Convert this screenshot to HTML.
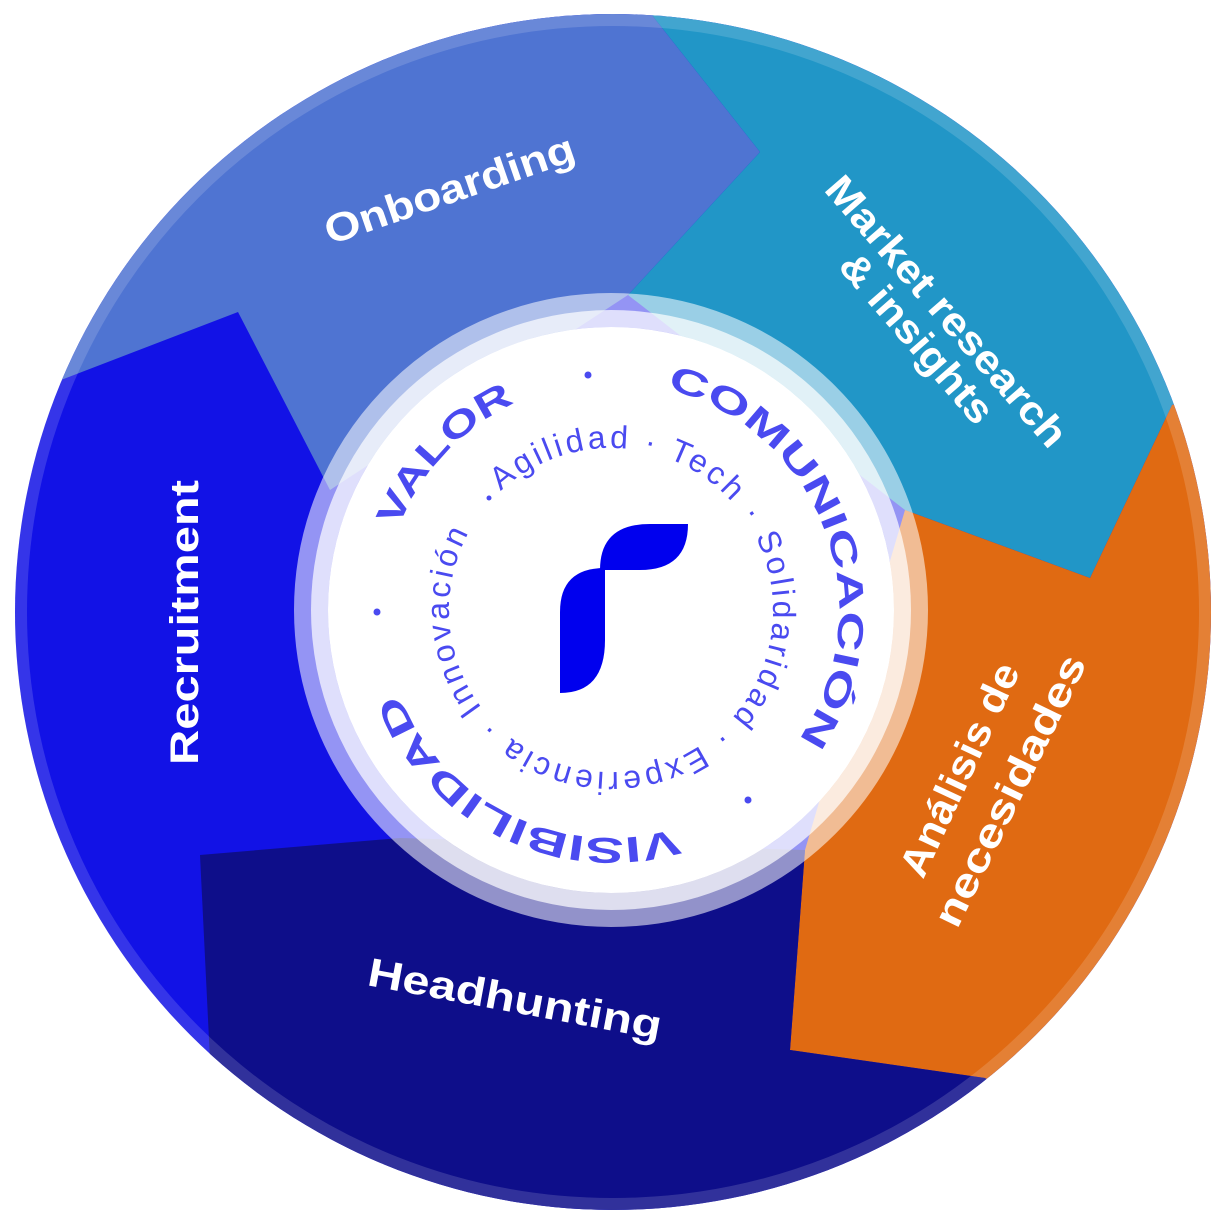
<!DOCTYPE html>
<html><head><meta charset="utf-8"><style>
html,body{margin:0;padding:0;background:#fff;}
svg{display:block;}
text{font-family:"Liberation Sans",sans-serif;}
</style></head><body>
<svg width="1222" height="1224" viewBox="0 0 1222 1224" xmlns="http://www.w3.org/2000/svg">
<defs>
<clipPath id="c"><circle cx="613" cy="612" r="598"/></clipPath>
<path id="outer" d="M383,610 A228,228 0 1 1 839,610 A228,228 0 1 1 383,610"/>
<path id="inner" d="M486.9,505.8 A162,162 0 1 1 735.1,714.2 A162,162 0 1 1 486.9,505.8"/>
</defs>
<g clip-path="url(#c)">
<rect x="0" y="0" width="1222" height="1224" fill="#1212e6"/>
<polygon points="0,0 640,0 760,152 628,295 330,490 238,312 40,388 0,388" fill="#4f74d2"/>
<polygon points="640,0 1222,0 1222,390 1172,405 1090,578 905,510 628,295 760,152" fill="#2196c7"/>
<polygon points="905,510 1090,578 1172,405 1222,390 1222,1224 985,1078 790,1050 805,850" fill="#e06a12"/>
<polygon points="200,855 400,838 805,850 790,1050 985,1078 1222,1224 212,1224 210,1060" fill="#0e0e8a"/>
</g>
<circle cx="613" cy="612" r="592" fill="none" stroke="#ffffff" stroke-opacity="0.15" stroke-width="12"/>
<circle cx="611" cy="610" r="300" fill="#ffffff" fill-opacity="0.7" stroke="#ffffff" stroke-opacity="0.55" stroke-width="34"/>
<circle cx="611" cy="610" r="283" fill="#ffffff"/>
<g fill="#4a4af0" font-weight="bold" font-size="36">
<text><textPath href="#outer" startOffset="84" textLength="175" lengthAdjust="spacingAndGlyphs">VALOR</textPath></text>
<text><textPath href="#outer" startOffset="414" textLength="440" lengthAdjust="spacingAndGlyphs">COMUNICACIÓN</textPath></text>
<text><textPath href="#outer" startOffset="1007" textLength="340" lengthAdjust="spacingAndGlyphs">VISIBILIDAD</textPath></text>
</g>
<g fill="#4a4af0"><circle cx="588" cy="375" r="3.5"/><circle cx="748" cy="800" r="3.5"/><circle cx="377" cy="612" r="3.5"/><circle cx="489" cy="498" r="2.5"/></g>
<text fill="#4a4af0" font-size="32"><textPath href="#inner" startOffset="20" textLength="965" lengthAdjust="spacing">Agilidad · Tech · Solidaridad · Experiencia · Innovación</textPath></text>
<path d="M650,524 L688,524 Q688,570 640,570 L600,570 Q600,524 650,524 Z" fill="#0000ee"/>
<path d="M605,568 L605,640 Q605,693 560,693 L560,612 Q560,568 605,568 Z" fill="#0000ee"/>
<g fill="#ffffff" font-weight="bold" font-size="40">
<text transform="translate(330,245) rotate(-19)" textLength="262" lengthAdjust="spacingAndGlyphs">Onboarding</text>
<text transform="translate(823,190) rotate(49)" textLength="345" lengthAdjust="spacingAndGlyphs">Market research</text>
<text transform="translate(837,267) rotate(49)" textLength="212" lengthAdjust="spacingAndGlyphs">&amp; insights</text>
<text transform="translate(198,765) rotate(-90)" textLength="285" lengthAdjust="spacingAndGlyphs">Recruitment</text>
<text transform="translate(366,985) rotate(10.5)" textLength="298" lengthAdjust="spacingAndGlyphs">Headhunting</text>
<text transform="translate(923,880) rotate(-65)" textLength="231" lengthAdjust="spacingAndGlyphs">Análisis de</text>
<text transform="translate(957,930) rotate(-64)" textLength="297" lengthAdjust="spacingAndGlyphs">necesidades</text>
</g>
</svg>
</body></html>
